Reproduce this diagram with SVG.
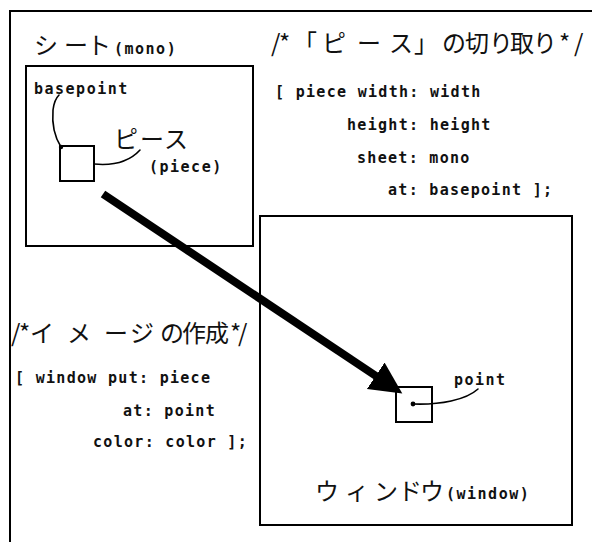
<svg xmlns="http://www.w3.org/2000/svg" width="592" height="542" viewBox="0 0 592 542">
  <style>
    .frame { fill: none; stroke: #000; stroke-width: 2; }
    .box { fill: none; stroke: #000; stroke-width: 2; }
    .lead { fill: none; stroke: #000; stroke-width: 1.6; stroke-linecap: round; }
    .jp { font-family: "Noto Sans CJK JP", "Noto Sans CJK SC", sans-serif; font-size: 24px; fill: #111; }
    .code { font-family: "DejaVu Sans Mono", "Liberation Mono", monospace; font-weight: bold; font-size: 15px; letter-spacing: 1.3px; fill: #111; }
    .lbl { font-family: "DejaVu Sans Mono", "Liberation Mono", monospace; font-weight: bold; font-size: 15px; letter-spacing: 1.5px; fill: #111; }
  </style>
  <defs>
    <marker id="head" markerUnits="userSpaceOnUse" markerWidth="34" markerHeight="34" viewBox="0 0 34 34" refX="4" refY="17" orient="auto">
      <path d="M0,1 L32,17 L0,33 Z" fill="#000"/>
    </marker>
  </defs>

  <rect width="592" height="542" fill="#fff"/>

  <!-- outer frame (open on the right and bottom) -->
  <path class="frame" d="M10,542 V11 H592"/>

  <!-- the mono sheet with the cut-out piece -->
  <g id="sheet">
    <text class="jp" x="34 64 87" y="54">シート</text>
    <text class="lbl" x="114" y="54">(mono)</text>
    <rect class="box" x="26" y="66" width="227" height="180"/>
    <text class="lbl" x="34" y="94">basepoint</text>
    <text class="jp" x="114 140 164" y="148">ピース</text>
    <text class="lbl" x="149" y="172">(piece)</text>
  </g>

  <g id="piece">
    <rect class="box" x="60" y="146" width="34" height="35"/>
    <circle cx="61" cy="147" r="2.2" fill="#000"/>
  </g>

  <!-- code for cutting out the piece -->
  <g id="cut-code">
    <text class="jp" x="271 279 293 322 357 389 414 442 465 489 510 533 559 574" y="52">/*「ピース」の切り取り*/</text>
    <text class="code" x="275" y="97">[ piece width: width</text>
    <text class="code" x="347" y="130">height: height</text>
    <text class="code" x="357" y="163">sheet: mono</text>
    <text class="code" x="388" y="195">at: basepoint ];</text>
  </g>

  <!-- code for putting the image -->
  <g id="put-code">
    <text class="jp" x="11 19 30 67 104 130 160 182 205 230 238" y="342">/*イメージの作成*/</text>
    <text class="code" x="15" y="383">[ window put: piece</text>
    <text class="code" x="123" y="416">at: point</text>
    <text class="code" x="93" y="447">color: color ];</text>
  </g>

  <!-- the window with the placed piece -->
  <g id="window">
    <rect class="box" x="260" y="216" width="312" height="309"/>
    <text class="jp" x="315 345 374 398 420" y="500">ウィンドウ</text>
    <text class="lbl" x="446" y="499">(window)</text>
    <text class="lbl" x="454" y="385">point</text>
  </g>

  <g id="placed-piece">
    <rect class="box" x="396" y="387" width="36" height="35"/>
    <circle cx="413" cy="404" r="2.4" fill="#000"/>
  </g>

  <!-- connectors -->
  <g id="connectors">
    <path class="lead" d="M61,147 C54,136 52,122 53,110 C54,101 56,98 59,95"/>
    <path class="lead" d="M94,164 C115,166 130,161 140,150"/>
    <path class="lead" d="M413,404 C440,405 466,400 478,389"/>
    <line x1="103" y1="194" x2="379" y2="378" stroke="#000" stroke-width="8" marker-end="url(#head)"/>
  </g>
</svg>
